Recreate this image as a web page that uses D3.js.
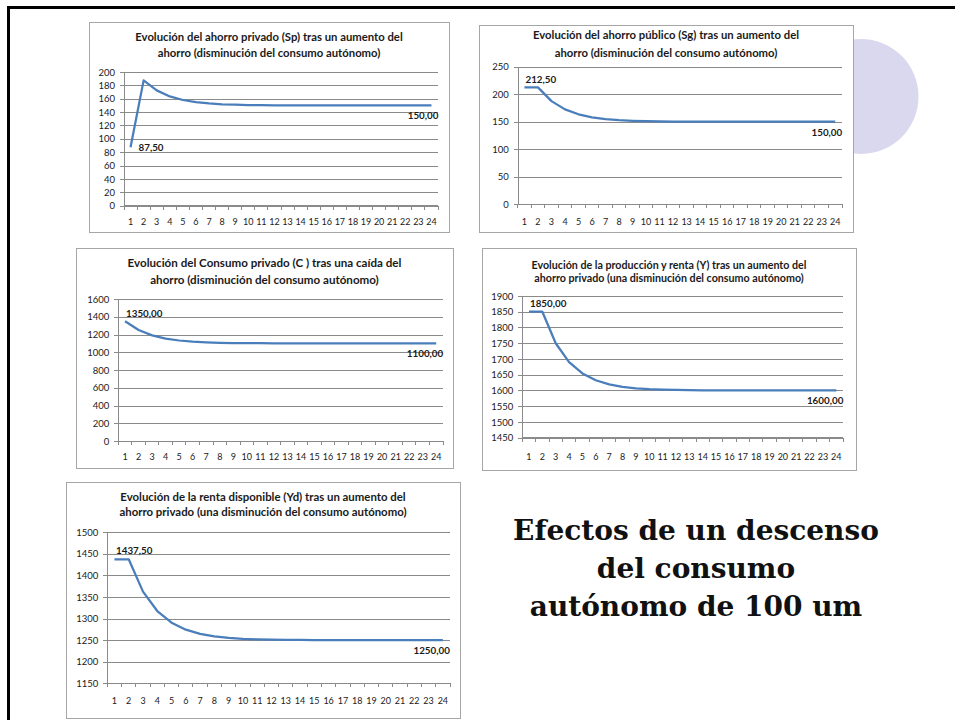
<!DOCTYPE html>
<html>
<head>
<meta charset="utf-8">
<script src="https://cdn.jsdelivr.net/npm/d3@7"></script>
<style>
  html, body { margin: 0; padding: 0; background: #fff; }
  svg { display: block; }
</style>
</head>
<body>
<svg id="slide" width="955" height="720"></svg>
<script>
// Periods (x-axis categories)
const periods = [1, 2, 3, 4, 5, 6, 7, 8, 9, 10, 11, 12, 13, 14, 15, 16, 17, 18, 19, 20, 21, 22, 23, 24];

// Private saving (Sp)
const ahorroPrivado = [87.5, 187.5, 172.5, 163.5, 158.1, 154.86, 152.92, 151.75, 151.05, 150.63, 150.38, 150.23,
  150.14, 150.08, 150.05, 150.03, 150.02, 150.01, 150.01, 150, 150, 150, 150, 150];

// Public saving (Sg)
const ahorroPublico = [212.5, 212.5, 187.5, 172.5, 163.5, 158.1, 154.86, 152.92, 151.75, 151.05, 150.63, 150.38,
  150.23, 150.14, 150.08, 150.05, 150.03, 150.02, 150.01, 150.01, 150, 150, 150, 150];

// Private consumption (C)
const consumo = [1350, 1250, 1190, 1154, 1132.4, 1119.44, 1111.66, 1107, 1104.2, 1102.52, 1101.51, 1100.91,
  1100.54, 1100.33, 1100.2, 1100.12, 1100.07, 1100.04, 1100.03, 1100.02, 1100.01, 1100.01, 1100, 1100];

// Output and income (Y)
const renta = [1850, 1850, 1750, 1690, 1654, 1632.4, 1619.44, 1611.66, 1607, 1604.2, 1602.52, 1601.51,
  1600.91, 1600.54, 1600.33, 1600.2, 1600.12, 1600.07, 1600.04, 1600.03, 1600.02, 1600.01, 1600.01, 1600];

// Disposable income (Yd)
const rentaDisponible = [1437.5, 1437.5, 1362.5, 1317.5, 1290.5, 1274.3, 1264.58, 1258.75, 1255.25, 1253.15, 1251.89, 1251.13,
  1250.68, 1250.41, 1250.24, 1250.15, 1250.09, 1250.05, 1250.03, 1250.02, 1250.01, 1250.01, 1250, 1250];

// Y-axis tick values for each chart
const ticksSp = [0, 20, 40, 60, 80, 100, 120, 140, 160, 180, 200];
const ticksSg = [0, 50, 100, 150, 200, 250];
const ticksC = [0, 200, 400, 600, 800, 1000, 1200, 1400, 1600];
const ticksY = [1450, 1500, 1550, 1600, 1650, 1700, 1750, 1800, 1850, 1900];
const ticksYd = [1150, 1200, 1250, 1300, 1350, 1400, 1450, 1500];

// Chart titles
const tituloSp = ["Evolución del ahorro privado (Sp) tras un aumento del", "ahorro (disminución del consumo autónomo)"];
const tituloSg = ["Evolución del ahorro público (Sg) tras un aumento del", "ahorro (disminución del consumo autónomo)"];
const tituloC = ["Evolución del Consumo privado (C ) tras una caída del", "ahorro (disminución del consumo autónomo)"];
const tituloY = ["Evolución de la producción y renta (Y) tras un aumento del", "ahorro privado (una disminución del consumo autónomo)"];
const tituloYd = ["Evolución de la renta disponible (Yd) tras un aumento del", "ahorro privado (una disminución del consumo autónomo)"];

const slideTitle = ["Efectos de un descenso", "del consumo", "autónomo de 100 um"];

const svg = d3.select("#slide");
const FONT = "Lato, 'Open Sans', sans-serif";
const LINE = "#4A7EBB";
const GRID = "#8a8a8a";

// Decorative circle behind the public saving chart
svg.append("circle")
  .attr("cx", 861).attr("cy", 96.5).attr("r", 57.5)
  .attr("fill", "#DAD8EE");

// Slide frame (top and left edges)
svg.append("line").attr("x1", 7).attr("x2", 955).attr("y1", 7.5).attr("y2", 7.5)
  .attr("stroke", "#000").attr("stroke-width", 3);
svg.append("line").attr("x1", 8.5).attr("x2", 8.5).attr("y1", 6).attr("y2", 720)
  .attr("stroke", "#000").attr("stroke-width", 3);

const fmt = v => d3.format(".2f")(v).replace(".", ",");

function drawChart(cfg) {
  const g = svg.append("g");
  const [bx0, by0, bx1, by1] = cfg.box;
  g.append("rect")
    .attr("x", bx0 + 0.5).attr("y", by0 + 0.5)
    .attr("width", bx1 - bx0).attr("height", by1 - by0)
    .attr("fill", "#fff").attr("stroke", "#a6a6a6").attr("stroke-width", 1);

  // Title
  const cx = (bx0 + bx1) / 2;
  cfg.title.forEach((t, i) => {
    g.append("text")
      .attr("x", cx).attr("y", cfg.titleY[i])
      .attr("dy", "0.35em")
      .attr("text-anchor", "middle")
      .attr("font-family", FONT).attr("font-weight", "bold")
      .attr("font-size", cfg.titleSize)
      .attr("fill", "#1a1a1a")
      .text(t);
  });

  const p = cfg.plot;
  const x = d3.scaleBand().domain(periods).range([p.x0, p.x1]).paddingInner(0).paddingOuter(0);
  const y = d3.scaleLinear().domain(cfg.domain).range([p.y1, p.y0]);
  const xc = d => x(d) + x.bandwidth() / 2;

  // Horizontal gridlines
  g.append("g")
    .attr("transform", `translate(${p.x0},0)`)
    .call(d3.axisLeft(y).tickValues(cfg.ticks).tickSize(-(p.x1 - p.x0)).tickFormat(""))
    .call(s => s.select(".domain").remove())
    .call(s => s.selectAll("line").attr("stroke", GRID).attr("stroke-width", 1)
      .attr("shape-rendering", "crispEdges"));

  // Y axis with outward ticks and labels
  g.append("g")
    .attr("transform", `translate(${p.x0},0)`)
    .call(d3.axisLeft(y).tickValues(cfg.ticks).tickFormat(d3.format("d"))
      .tickSize(4).tickSizeOuter(0).tickPadding(5))
    .call(s => s.select(".domain").attr("stroke", GRID).attr("shape-rendering", "crispEdges"))
    .call(s => s.selectAll("line").attr("stroke", GRID).attr("shape-rendering", "crispEdges"))
    .call(s => s.selectAll("text").attr("font-family", FONT).attr("font-size", 9.5)
      .attr("fill", "#1a1a1a"));

  // X axis: baseline, ticks on category boundaries, labels centred on categories
  const xg = g.append("g").attr("transform", `translate(0,${p.y1})`);
  xg.append("line").attr("x1", p.x0).attr("x2", p.x1).attr("y1", 0).attr("y2", 0)
    .attr("stroke", GRID).attr("shape-rendering", "crispEdges");
  const bounds = periods.map(d => x(d)).concat([p.x1]);
  xg.selectAll("line.tk").data(bounds).join("line").attr("class", "tk")
    .attr("x1", d => d).attr("x2", d => d).attr("y1", 0).attr("y2", 4)
    .attr("stroke", GRID).attr("shape-rendering", "crispEdges");
  xg.selectAll("text").data(periods).join("text")
    .attr("x", d => xc(d)).attr("y", cfg.xLabelDy)
    .attr("dy", "0.35em").attr("text-anchor", "middle")
    .attr("font-family", FONT).attr("font-size", 9).attr("fill", "#1a1a1a")
    .text(d => d);

  // Series line
  const line = d3.line().x((d, i) => xc(periods[i])).y(d => y(d));
  g.append("path").datum(cfg.values)
    .attr("d", line).attr("fill", "none")
    .attr("stroke", LINE).attr("stroke-width", 2.25)
    .attr("stroke-linejoin", "round");

  // Data labels on first and last points
  const n = cfg.values.length;
  const first = cfg.values[0], last = cfg.values[n - 1];
  g.append("text")
    .attr("x", xc(periods[0]) + cfg.firstDx).attr("y", y(first) + cfg.firstDy)
    .attr("dy", "0.35em").attr("text-anchor", "start")
    .attr("font-family", FONT).attr("font-weight", "bold").attr("font-size", 9.8)
    .attr("fill", "#1a1a1a").text(fmt(first));
  g.append("text")
    .attr("x", xc(periods[n - 1]) + 7).attr("y", y(last) + 10.5)
    .attr("dy", "0.35em").attr("text-anchor", "end")
    .attr("font-family", FONT).attr("font-weight", "bold").attr("font-size", 9.8)
    .attr("fill", "#1a1a1a").text(fmt(last));
}

drawChart({
  box: [89, 22, 449, 232], title: tituloSp, titleY: [37, 53], titleSize: 11.3,
  plot: { x0: 124, x1: 438, y0: 72, y1: 205.7 }, domain: [0, 200], ticks: ticksSp,
  values: ahorroPrivado, xLabelDy: 16,
  firstDx: 8, firstDy: 0
});

drawChart({
  box: [479, 25, 853, 232], title: tituloSg, titleY: [35, 52.7], titleSize: 11.3,
  plot: { x0: 517.7, x1: 842, y0: 66.7, y1: 204.3 }, domain: [0, 250], ticks: ticksSg,
  values: ahorroPublico, xLabelDy: 17.7,
  firstDx: 1, firstDy: -8
});

drawChart({
  box: [76, 248, 453, 468], title: tituloC, titleY: [263.3, 280], titleSize: 11.6,
  plot: { x0: 118.3, x1: 443, y0: 299, y1: 441 }, domain: [0, 1600], ticks: ticksC,
  values: consumo, xLabelDy: 15.7,
  firstDx: 1, firstDy: -8
});

drawChart({
  box: [482, 248, 856, 470], title: tituloY, titleY: [265.7, 278.3], titleSize: 10.7,
  plot: { x0: 522.3, x1: 843, y0: 296, y1: 437.7 }, domain: [1450, 1900], ticks: ticksY,
  values: renta, xLabelDy: 19,
  firstDx: 1, firstDy: -8.4
});

drawChart({
  box: [66, 482, 460, 718], title: tituloYd, titleY: [496.7, 511.7], titleSize: 11.4,
  plot: { x0: 107.3, x1: 450, y0: 532.3, y1: 683.3 }, domain: [1150, 1500], ticks: ticksYd,
  values: rentaDisponible, xLabelDy: 17.7,
  firstDx: 1.6, firstDy: -8.6
});

// Slide heading
svg.append("g").selectAll("text").data(slideTitle).join("text")
  .attr("x", 696).attr("y", (d, i) => 540 + i * 38)
  .attr("text-anchor", "middle")
  .attr("font-family", "'DejaVu Serif', 'Liberation Serif', serif")
  .attr("font-weight", "bold").attr("font-size", 28)
  .attr("fill", "#111")
  .text(d => d);
</script>
</body>
</html>
